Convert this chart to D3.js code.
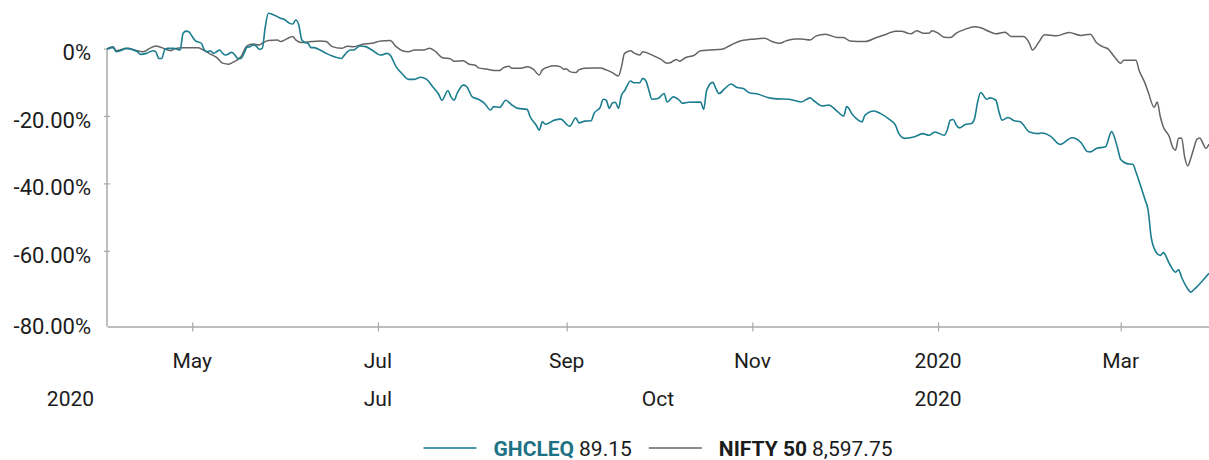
<!DOCTYPE html>
<html>
<head>
<meta charset="utf-8">
<script src="https://cdn.jsdelivr.net/npm/d3@7"></script>
<style>
  html, body { margin: 0; padding: 0; background: #fff; }
  svg { display: block; font-family: Roboto, "Noto Sans", sans-serif; }
</style>
</head>
<body>
<svg id="chart" width="1209" height="460"></svg>
<script>
// Relative performance (% change since start), GHCLEQ vs NIFTY 50
const ghclSeries = [
  ["2019-04-03",0],["2019-04-05",0.4],["2019-04-06",-0.8],["2019-04-08",-0.3],["2019-04-09",0.2],["2019-04-11",-0.1],
  ["2019-04-13",-0.8],["2019-04-14",-1.6],["2019-04-16",-1.3],["2019-04-18",-0.5],["2019-04-19",-0.8],["2019-04-20",-2.8],
  ["2019-04-21",-2.8],["2019-04-22",-0.1],["2019-04-23",0.2],["2019-04-25",0.2],["2019-04-26",-0.1],["2019-04-27",-0.3],
  ["2019-04-28",4.7],["2019-04-29",5.3],["2019-04-30",5.0],["2019-05-01",3.7],["2019-05-02",2.5],["2019-05-04",1.7],
  ["2019-05-05",-0.3],["2019-05-06",-0.8],["2019-05-07",-0.5],["2019-05-08",-1.3],["2019-05-09",-0.8],["2019-05-10",-0.3],
  ["2019-05-11",-1.3],["2019-05-12",-1.8],["2019-05-14",-1.0],["2019-05-15",-1.8],["2019-05-16",-2.8],["2019-05-17",-2.8],
  ["2019-05-18",-1.3],["2019-05-19",0.5],["2019-05-20",0.7],["2019-05-21",1.2],["2019-05-22",0.9],["2019-05-23",-0.1],
  ["2019-05-24",0.2],["2019-05-25",6.6],["2019-05-26",10.6],["2019-05-27",10.4],["2019-05-29",9.6],["2019-05-30",9.1],
  ["2019-05-31",8.9],["2019-06-02",7.6],["2019-06-03",7.4],["2019-06-04",8.6],["2019-06-05",7.1],["2019-06-06",2.7],
  ["2019-06-07",1.9],["2019-06-08",1.7],["2019-06-09",0.4],["2019-06-10",0.4],["2019-06-12",-0.3],["2019-06-14",-1.3],
  ["2019-06-16",-2.1],["2019-06-19",-2.8],["2019-06-20",-1.8],["2019-06-22",-0.3],["2019-06-23",-0.3],["2019-06-25",0.9],
  ["2019-06-27",0.7],["2019-06-29",-0.3],["2019-07-02",-1.8],["2019-07-04",-1.3],["2019-07-05",-1.8],["2019-07-07",-5.3],
  ["2019-07-09",-7.4],["2019-07-11",-9.0],["2019-07-13",-9.0],["2019-07-15",-8.4],["2019-07-17",-9.0],["2019-07-19",-11.2],
  ["2019-07-21",-13.5],["2019-07-22",-15.2],["2019-07-24",-12.4],["2019-07-25",-14.2],["2019-07-26",-15.2],["2019-07-27",-13.2],
  ["2019-07-29",-10.7],["2019-07-30",-11.0],["2019-08-01",-14.2],["2019-08-03",-14.9],["2019-08-05",-16.1],["2019-08-07",-18.1],
  ["2019-08-08",-17.1],["2019-08-10",-17.3],["2019-08-12",-15.2],["2019-08-14",-16.6],["2019-08-16",-17.6],["2019-08-19",-17.9],
  ["2019-08-20",-20.1],["2019-08-22",-22.6],["2019-08-23",-24.1],["2019-08-24",-21.6],["2019-08-25",-22.3],["2019-08-28",-21.1],
  ["2019-08-30",-20.8],["2019-09-02",-22.9],["2019-09-04",-20.4],["2019-09-05",-21.9],["2019-09-07",-21.4],["2019-09-09",-21.3],
  ["2019-09-10",-19.1],["2019-09-12",-17.3],["2019-09-13",-14.9],["2019-09-14",-15.2],["2019-09-15",-17.6],["2019-09-16",-16.0],
  ["2019-09-17",-15.8],["2019-09-18",-17.6],["2019-09-19",-13.7],["2019-09-20",-12.4],["2019-09-22",-9.5],["2019-09-23",-10.0],
  ["2019-09-25",-10.0],["2019-09-26",-8.7],["2019-09-27",-9.4],["2019-09-28",-12.2],["2019-09-29",-14.9],["2019-10-01",-14.7],
  ["2019-10-03",-13.2],["2019-10-04",-15.7],["2019-10-06",-14.2],["2019-10-08",-15.2],["2019-10-09",-16.1],["2019-10-11",-15.8],
  ["2019-10-15",-15.7],["2019-10-16",-17.9],["2019-10-17",-12.2],["2019-10-19",-9.9],["2019-10-20",-11.7],["2019-10-21",-13.2],
  ["2019-10-23",-11.7],["2019-10-25",-10.4],["2019-10-27",-11.4],["2019-10-29",-11.7],["2019-10-31",-13.0],["2019-11-03",-13.4],
  ["2019-11-06",-14.4],["2019-11-09",-14.8],["2019-11-13",-14.9],["2019-11-17",-15.7],["2019-11-20",-14.5],["2019-11-21",-15.2],
  ["2019-11-24",-16.9],["2019-11-26",-16.6],["2019-11-29",-18.6],["2019-12-01",-19.9],["2019-12-02",-17.1],["2019-12-04",-19.6],
  ["2019-12-07",-21.6],["2019-12-08",-19.6],["2019-12-11",-18.4],["2019-12-13",-19.1],["2019-12-16",-20.9],["2019-12-18",-22.6],
  ["2019-12-19",-24.9],["2019-12-21",-26.5],["2019-12-24",-26.1],["2019-12-27",-25.1],["2019-12-29",-25.6],["2019-12-31",-24.6],
  ["2020-01-03",-25.6],["2020-01-04",-24.1],["2020-01-05",-21.1],["2020-01-06",-20.9],["2020-01-07",-22.6],["2020-01-08",-23.4],
  ["2020-01-10",-22.4],["2020-01-12",-22.1],["2020-01-13",-20.6],["2020-01-14",-15.7],["2020-01-15",-12.9],["2020-01-17",-14.9],
  ["2020-01-18",-14.5],["2020-01-20",-15.2],["2020-01-21",-18.6],["2020-01-22",-21.1],["2020-01-24",-20.3],["2020-01-26",-21.3],
  ["2020-01-28",-21.6],["2020-01-31",-24.6],["2020-02-03",-25.1],["2020-02-04",-24.9],["2020-02-07",-25.9],["2020-02-10",-28.3],
  ["2020-02-14",-26.3],["2020-02-17",-27.8],["2020-02-19",-30.4],["2020-02-20",-30.5],["2020-02-22",-29.5],["2020-02-25",-29.0],
  ["2020-02-27",-24.5],["2020-02-29",-29.5],["2020-03-01",-32.8],["2020-03-03",-34.0],["2020-03-05",-34.2],["2020-03-06",-36.5],
  ["2020-03-08",-41.9],["2020-03-09",-44.7],["2020-03-10",-47.8],["2020-03-11",-55.8],["2020-03-12",-59.2],["2020-03-14",-61.2],
  ["2020-03-15",-60.4],["2020-03-17",-63.7],["2020-03-19",-66.2],["2020-03-20",-65.5],["2020-03-21",-67.7],["2020-03-23",-71.1],
  ["2020-03-24",-72.1],["2020-03-25",-71.4],["2020-03-28",-68.6],["2020-03-30",-66.5]
];

const niftySeries = [
  ["2019-04-03",0],["2019-04-05",0.7],["2019-04-06",-0.5],["2019-04-08",-0.1],["2019-04-10",0.2],["2019-04-12",-0.3],
  ["2019-04-15",-0.8],["2019-04-17",0.2],["2019-04-19",0.9],["2019-04-21",0.4],["2019-04-24",-0.5],["2019-04-25",0],
  ["2019-04-28",0.4],["2019-05-03",0.4],["2019-05-05",-0.5],["2019-05-07",-1.5],["2019-05-09",-2.5],["2019-05-11",-4.2],
  ["2019-05-13",-4.5],["2019-05-14",-4.1],["2019-05-17",-2.3],["2019-05-19",0.9],["2019-05-21",1.5],["2019-05-23",1.2],
  ["2019-05-24",1.7],["2019-05-26",2.5],["2019-05-29",2.7],["2019-05-30",2.2],["2019-06-01",3.0],["2019-06-03",3.7],
  ["2019-06-04",2.7],["2019-06-06",1.9],["2019-06-09",2.2],["2019-06-12",2.4],["2019-06-14",2.2],["2019-06-16",0.7],
  ["2019-06-19",0.2],["2019-06-21",0.8],["2019-06-23",0.7],["2019-06-26",1.4],["2019-06-29",1.7],["2019-07-02",2.4],
  ["2019-07-05",2.5],["2019-07-07",0.7],["2019-07-09",-0.5],["2019-07-11",-0.8],["2019-07-13",-0.3],["2019-07-16",-0.3],
  ["2019-07-18",0.2],["2019-07-20",-0.8],["2019-07-22",-2.5],["2019-07-25",-3.0],["2019-07-26",-3.6],["2019-07-29",-3.5],
  ["2019-07-31",-4.5],["2019-08-02",-4.8],["2019-08-03",-5.6],["2019-08-06",-6.0],["2019-08-08",-6.4],["2019-08-10",-6.4],
  ["2019-08-11",-5.7],["2019-08-13",-5.1],["2019-08-14",-5.7],["2019-08-17",-5.7],["2019-08-19",-5.3],["2019-08-21",-6.0],
  ["2019-08-23",-7.7],["2019-08-24",-6.2],["2019-08-26",-5.3],["2019-08-28",-5.0],["2019-08-30",-5.3],["2019-08-31",-6.0],
  ["2019-09-01",-5.9],["2019-09-02",-6.7],["2019-09-04",-7.0],["2019-09-05",-6.2],["2019-09-07",-5.7],["2019-09-10",-5.6],
  ["2019-09-12",-5.6],["2019-09-14",-6.2],["2019-09-16",-7.0],["2019-09-18",-8.0],["2019-09-19",-5.3],["2019-09-20",-1.3],
  ["2019-09-22",-0.5],["2019-09-23",-1.1],["2019-09-25",-1.8],["2019-09-26",-0.8],["2019-09-27",-1.0],["2019-09-29",-1.8],
  ["2019-10-02",-3.1],["2019-10-04",-4.2],["2019-10-05",-4.1],["2019-10-07",-3.1],["2019-10-08",-3.6],["2019-10-10",-2.6],
  ["2019-10-13",-1.8],["2019-10-15",-0.5],["2019-10-18",-0.3],["2019-10-22",-0.1],["2019-10-25",1.2],["2019-10-28",2.4],
  ["2019-10-30",2.7],["2019-11-01",2.9],["2019-11-05",3.2],["2019-11-07",2.4],["2019-11-10",1.7],["2019-11-12",2.4],
  ["2019-11-15",3.0],["2019-11-17",3.0],["2019-11-20",2.7],["2019-11-22",3.9],["2019-11-25",4.4],["2019-11-29",3.4],
  ["2019-12-01",3.4],["2019-12-03",2.4],["2019-12-08",2.2],["2019-12-12",3.5],["2019-12-15",4.4],["2019-12-18",5.3],
  ["2019-12-20",5.3],["2019-12-22",4.7],["2019-12-23",4.5],["2019-12-25",5.4],["2019-12-27",4.7],["2019-12-29",4.7],
  ["2019-12-30",5.4],["2020-01-01",4.7],["2020-01-03",3.5],["2020-01-05",3.4],["2020-01-07",4.7],["2020-01-10",5.9],
  ["2020-01-13",6.6],["2020-01-15",6.3],["2020-01-18",5.1],["2020-01-20",4.5],["2020-01-23",5.0],["2020-01-25",3.7],
  ["2020-01-29",3.7],["2020-01-31",1.7],["2020-02-01",-0.3],["2020-02-03",1.9],["2020-02-05",4.2],["2020-02-09",3.9],
  ["2020-02-13",4.9],["2020-02-17",4.0],["2020-02-20",4.4],["2020-02-22",1.9],["2020-02-24",0.7],["2020-02-26",-0.1],
  ["2020-02-28",-2.4],["2020-03-01",-4.2],["2020-03-02",-3.3],["2020-03-06",-3.3],["2020-03-07",-6.2],["2020-03-09",-10.2],
  ["2020-03-10",-12.7],["2020-03-12",-17.3],["2020-03-13",-15.7],["2020-03-14",-20.1],["2020-03-15",-23.1],["2020-03-17",-26.1],
  ["2020-03-18",-29.0],["2020-03-19",-30.0],["2020-03-20",-26.5],["2020-03-21",-26.4],["2020-03-22",-32.0],["2020-03-23",-34.7],
  ["2020-03-24",-32.5],["2020-03-25",-29.5],["2020-03-26",-26.8],["2020-03-27",-26.4],["2020-03-28",-28.0],["2020-03-29",-29.5],
  ["2020-03-30",-28.2]
];

const seriesNames = ["GHCLEQ", "NIFTY 50"];
const seriesLast = ["89.15", "8,597.75"];

const yTicks = [0, -20, -40, -60, -80];
const yTickLabels = ["0%", "-20.00%", "-40.00%", "-60.00%", "-80.00%"];

const xTickDates = ["2019-05-01", "2019-07-01", "2019-09-01", "2019-11-01", "2020-01-01", "2020-03-01"];
const xTickLabels = ["May", "Jul", "Sep", "Nov", "2020", "Mar"];
const xRow2Dates = ["2019-03-22", "2019-07-01", "2019-10-01", "2020-01-01"];
const xRow2Labels = ["2020", "Jul", "Oct", "2020"];

const xStart = "2019-04-03", xEnd = "2020-03-30";

// ---- layout ----
const W = 1209, H = 460;
const margin = { top: 49, right: 0, bottom: 133.5, left: 107 };
const colors = { ghcl: "#1b7d90", ghclText: "#1d7283", nifty: "#646464", axis: "#a9a9a9", text: "#1c1c1c" };

const parse = d3.timeParse("%Y-%m-%d");
const svg = d3.select("#chart");

const x = d3.scaleTime()
  .domain([parse(xStart), parse(xEnd)])
  .range([margin.left, W - margin.right]);

const yMin = -82.3;
const y = d3.scaleLinear()
  .domain([yMin, 0])
  .range([H - margin.bottom, margin.top]);

const toPoints = s => s.map(([d, v]) => ({ date: parse(d), value: v }));

// ---- axes ----
const axisG = svg.append("g").attr("class", "axes");

// y axis line and ticks crossing it
axisG.append("line")
  .attr("x1", margin.left).attr("x2", margin.left)
  .attr("y1", y(0)).attr("y2", y(yMin))
  .attr("stroke", colors.axis).attr("stroke-width", 1.5);

axisG.selectAll(".ytick")
  .data(yTicks.filter(v => v > yMin + 5))
  .join("line")
  .attr("class", "ytick")
  .attr("x1", margin.left - 3).attr("x2", margin.left + 3)
  .attr("y1", d => y(d)).attr("y2", d => y(d))
  .attr("stroke", colors.axis).attr("stroke-width", 1.2);

axisG.selectAll(".ylabel")
  .data(yTicks)
  .join("text")
  .attr("class", "ylabel")
  .attr("x", 91)
  // the lowest label sits on the axis floor
  .attr("y", (d, i) => (i === yTicks.length - 1 ? y(yMin) : y(d) + 3.5) + 7.8)
  .attr("text-anchor", "end")
  .attr("font-size", 22)
  .attr("fill", colors.text)
  .text((d, i) => yTickLabels[i]);

// x axis
const xAxis = d3.axisBottom(x)
  .tickValues(xTickDates.map(parse))
  .tickSizeInner(5)
  .tickSizeOuter(0)
  .tickFormat("");
const xg = axisG.append("g")
  .attr("transform", `translate(0,${y(yMin)})`)
  .call(xAxis);
xg.select(".domain").attr("stroke", colors.axis).attr("stroke-width", 1.5);
xg.selectAll(".tick line").attr("stroke", colors.axis).attr("stroke-width", 1.2).attr("y1", -4).attr("y2", 5);

axisG.selectAll(".xlabel1")
  .data(xTickDates)
  .join("text")
  .attr("class", "xlabel1")
  .attr("x", d => x(parse(d)))
  .attr("y", 368)
  .attr("text-anchor", "middle")
  .attr("font-size", 21)
  .attr("fill", colors.text)
  .text((d, i) => xTickLabels[i]);

axisG.selectAll(".xlabel2")
  .data(xRow2Dates)
  .join("text")
  .attr("class", "xlabel2")
  .attr("x", d => x(parse(d)))
  .attr("y", 406)
  .attr("text-anchor", "middle")
  .attr("font-size", 21)
  .attr("fill", colors.text)
  .text((d, i) => xRow2Labels[i]);

// ---- lines ----
const line = d3.line()
  .x(d => x(d.date))
  .y(d => y(d.value))
  .curve(d3.curveMonotoneX);

svg.append("path")
  .datum(toPoints(niftySeries))
  .attr("fill", "none")
  .attr("stroke", colors.nifty)
  .attr("stroke-width", 1.5)
  .attr("stroke-linejoin", "round")
  .attr("d", line);

svg.append("path")
  .datum(toPoints(ghclSeries))
  .attr("fill", "none")
  .attr("stroke", colors.ghcl)
  .attr("stroke-width", 1.6)
  .attr("stroke-linejoin", "round")
  .attr("d", line);

// ---- legend ----
const legend = svg.append("g").attr("class", "legend");
const legendItems = [
  { name: seriesNames[0], last: seriesLast[0], line: "#4b9aab", nameColor: colors.ghclText },
  { name: seriesNames[1], last: seriesLast[1], line: "#8a8a8a", nameColor: colors.text }
];
let cx = 0;
const baseY = 456, lineY = 448;
legendItems.forEach((it, i) => {
  if (i > 0) cx += 17;
  legend.append("line")
    .attr("x1", cx).attr("x2", cx + 53)
    .attr("y1", lineY).attr("y2", lineY)
    .attr("stroke", it.line).attr("stroke-width", 2);
  cx += 53 + 17;
  const t1 = legend.append("text")
    .attr("x", cx).attr("y", baseY)
    .attr("font-size", 21).attr("font-weight", 700)
    .attr("fill", it.nameColor)
    .text(it.name);
  cx += t1.node().getComputedTextLength() + 5;
  const t2 = legend.append("text")
    .attr("x", cx).attr("y", baseY)
    .attr("font-size", 21)
    .attr("fill", colors.text)
    .text(it.last);
  cx += t2.node().getComputedTextLength();
});
const legendCenter = (margin.left + W - margin.right) / 2;
legend.attr("transform", `translate(${legendCenter - cx / 2},0)`);
</script>
</body>
</html>
